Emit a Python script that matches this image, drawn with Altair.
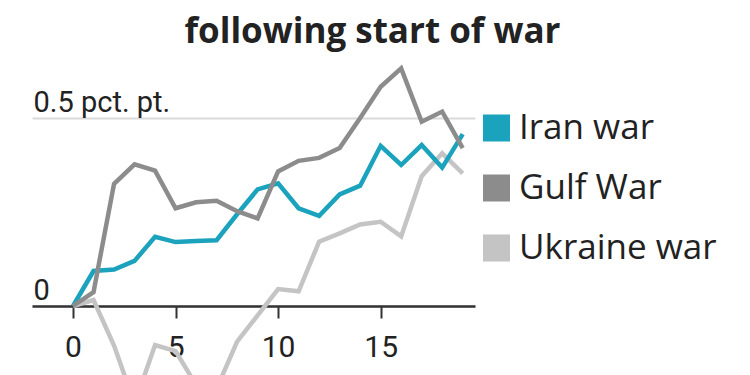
import altair as alt
import pandas as pd

weeks = list(range(20))
series_names = ["Iran war", "Gulf War", "Ukraine war"]
series_colors = ["#1ba3bd", "#8c8c8c", "#c4c4c4"]

iran = [0, 0.093, 0.097, 0.12, 0.184, 0.17, 0.173, 0.175, 0.244, 0.31,
        0.326, 0.26, 0.24, 0.297, 0.32, 0.426, 0.375, 0.428, 0.368, 0.457]
gulf = [0, 0.037, 0.325, 0.377, 0.36, 0.26, 0.276, 0.28, 0.252, 0.233,
        0.358, 0.386, 0.394, 0.42, 0.5, 0.583, 0.632, 0.49, 0.517, 0.42]
ukraine = [0, 0.016, -0.105, -0.26, -0.104, -0.12, -0.21, -0.22, -0.095, -0.025,
           0.045, 0.039, 0.171, 0.193, 0.217, 0.224, 0.185, 0.345, 0.406, 0.353]

title_text = "following start of war"
y_ticks = [0, 0.5]
x_ticks = [0, 5, 10, 15]

rows = []
for name, vals in [("Ukraine war", ukraine), ("Iran war", iran), ("Gulf War", gulf)]:
    for w, v in zip(weeks, vals):
        rows.append({"week": w, "value": v, "series": name})
df = pd.DataFrame(rows)

axis_font = "Roboto"

# solid-looking square legend swatch drawn as tightly packed horizontal strokes
stripe_ys = [-0.8889, -0.6667, -0.4444, -0.2222, 0, 0.2222, 0.4444, 0.6667, 0.8889]
square_path = "".join(f"M-1,{y}H1" for y in stripe_ys)

x_enc = alt.X(
    "week:Q",
    scale=alt.Scale(domain=[-2, 19.6], nice=False, zero=False),
    axis=alt.Axis(
        values=x_ticks, offset=-69, title=None, grid=False,
        domainColor="#333333", domainWidth=2.5,
        tickColor="#333333", tickWidth=2, tickSize=12,
        labelFont=axis_font, labelFontSize=30, labelColor="#222222",
        labelPadding=14,
    ),
)
y_enc = alt.Y(
    "value:Q",
    scale=alt.Scale(domain=[-0.18351, 0.65957], nice=False, zero=False),
    axis=alt.Axis(
        values=y_ticks, title=None, domain=False, ticks=False, tickSize=0,
        grid=True, gridColor="#dadada", gridWidth=2,
        labelExpr="datum.value == 0 ? '0' : '0.5 pct. pt.'",
        labelAlign="left", labelPadding=-1, labelBaseline="alphabetic",
        labelOffset=-6, labelFont=axis_font, labelFontSize=29, labelColor="#222222",
        labelLimit=300,
    ),
)

chart = alt.Chart(df).mark_line(strokeWidth=4.5, clip=True).encode(
    x=x_enc,
    y=y_enc,
    color=alt.Color(
        "series:N",
        scale=alt.Scale(domain=series_names, range=series_colors),
        legend=alt.Legend(
            orient="none", legendX=447, legendY=52.5, title=None,
            symbolType=square_path, symbolSize=729, symbolStrokeWidth=3.2,
            symbolOpacity=1,
            labelFont="Open Sans", labelFontSize=35, labelColor="#222222",
            labelOffset=5, rowPadding=23, padding=0, labelLimit=400,
        ),
    ),
    order="week:Q",
).properties(
    width=443,
    height=317,
    autosize=alt.AutoSizeParams(type="none"),
    padding={"left": 24, "top": 50, "right": 267, "bottom": 0},
    title=alt.TitleParams(
        text=title_text, anchor="middle", frame="group", dx=119, offset=12, dy=32,
        baseline="alphabetic", fontSize=35, font="Open Sans", fontWeight="bold",
        color="#222222",
    ),
).configure_view(strokeWidth=0)

chart.save("out.html", embed_options={"renderer": "svg", "actions": False})
